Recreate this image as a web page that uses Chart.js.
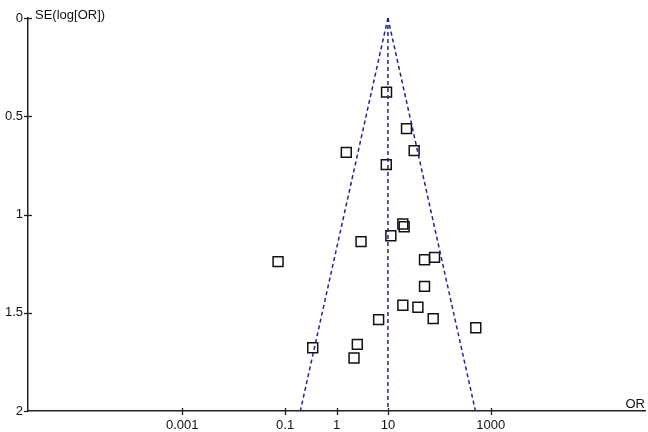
<!DOCTYPE html>
<html>
<head>
<meta charset="utf-8">
<script src="https://cdn.jsdelivr.net/npm/chart.js@4"></script>
<style>
html,body{margin:0;padding:0;background:#fff;}
#wrap{width:648px;height:432px;position:relative;}
</style>
</head>
<body>
<div id="wrap"><canvas id="c" width="648" height="432"></canvas></div>
<script>
// Study odds ratios and standard errors of log(OR)
const studyOR = [9.4, 23, 1.55, 32.4, 9.3, 19.5, 20.7, 11.4, 3.0, 0.073, 51.5, 80.7, 51.5, 19.5, 38.3, 6.6, 75.9, 512, 0.345, 2.54, 2.19];
const studySE = [0.377, 0.563, 0.684, 0.675, 0.746, 1.048, 1.062, 1.108, 1.138, 1.240, 1.230, 1.218, 1.366, 1.462, 1.472, 1.535, 1.530, 1.576, 1.678, 1.661, 1.730];

// Funnel (pseudo 95% limits) and pooled estimate line
const funnelSE = [0, 2];
const pooledOR = [10, 10];
const lowerOR = [10, 0.198];
const upperOR = [10, 504];

// Axis ticks
const xTickValues = [0.001, 0.1, 1, 10, 1000];
const yTickValues = [0, 0.5, 1, 1.5, 2];

const FONT = '"Liberation Sans", Arial, sans-serif';
const lineColor = '#24248c';

const toPts = (xs, ys) => xs.map((x, i) => ({x: x, y: ys[i]}));

const decor = {
  id: 'decor',
  afterDraw(chart) {
    const ctx = chart.ctx;
    const xs = chart.scales.x, ys = chart.scales.y;
    const ca = chart.chartArea;
    ctx.save();
    ctx.strokeStyle = '#222';
    ctx.lineWidth = 1.3;
    xs.ticks.forEach(t => {
      const px = Math.round(xs.getPixelForValue(t.value)) + 0.5;
      ctx.beginPath(); ctx.moveTo(px, ca.bottom - 3); ctx.lineTo(px, ca.bottom + 4); ctx.stroke();
    });
    ys.ticks.forEach(t => {
      const py = Math.round(ys.getPixelForValue(t.value)) + 0.5;
      ctx.beginPath(); ctx.moveTo(ca.left - 4, py); ctx.lineTo(ca.left + (t.value === 2 ? 0 : 4), py); ctx.stroke();
    });
    ctx.fillStyle = '#111';
    ctx.font = '13px ' + FONT;
    ctx.textBaseline = 'alphabetic';
    ctx.textAlign = 'left';
    ctx.fillText('SE(log[OR])', ca.left + 7, 19);
    ctx.textAlign = 'right';
    ctx.fillText('OR', ca.right, ca.bottom - 3);
    ctx.restore();
  }
};

const dashed = (data) => ({
  type: 'line',
  data: data,
  borderColor: lineColor,
  borderWidth: 1.5,
  borderDash: [4, 3],
  pointRadius: 0,
  fill: false,
  showLine: true,
  tension: 0
});

new Chart(document.getElementById('c'), {
  type: 'scatter',
  data: {
    datasets: [
      dashed(toPts(lowerOR, funnelSE)),
      dashed(toPts(upperOR, funnelSE)),
      dashed(toPts(pooledOR, funnelSE)),
      {
        type: 'scatter',
        data: toPts(studyOR, studySE),
        pointStyle: 'rect',
        pointRadius: 7,
        pointHoverRadius: 7,
        pointBackgroundColor: 'rgba(255,255,255,0)',
        pointBorderColor: '#111',
        pointBorderWidth: 1.5
      }
    ]
  },
  options: {
    responsive: false,
    animation: false,
    events: [],
    clip: false,
    layout: {autoPadding: false, padding: {top: 18, right: 3, left: 0, bottom: 0}},
    plugins: {legend: {display: false}, tooltip: {enabled: false}},
    scales: {
      x: {
        type: 'logarithmic',
        min: 1e-6,
        max: 1e6,
        afterBuildTicks: s => { s.ticks = xTickValues.map(v => ({value: v})); },
        afterFit: s => { s.height = 21; s.paddingLeft = 0; s.paddingRight = 0; },
        grid: {display: false, drawTicks: false},
        border: {display: true, color: '#222', width: 1.5},
        ticks: {
          color: '#111',
          font: {family: FONT, size: 13},
          padding: 7,
          maxRotation: 0,
          autoSkip: false,
          callback: v => String(v)
        }
      },
      y: {
        type: 'linear',
        reverse: true,
        min: 0,
        max: 2,
        afterBuildTicks: s => { s.ticks = yTickValues.map(v => ({value: v})); },
        afterFit: s => { s.width = 28; s.paddingTop = 0; s.paddingBottom = 0; },
        grid: {display: false, drawTicks: false},
        border: {display: true, color: '#222', width: 1.5},
        ticks: {
          color: '#111',
          font: {family: FONT, size: 13},
          padding: 5,
          callback: v => String(v)
        }
      }
    }
  },
  plugins: [decor]
});
</script>
</body>
</html>
